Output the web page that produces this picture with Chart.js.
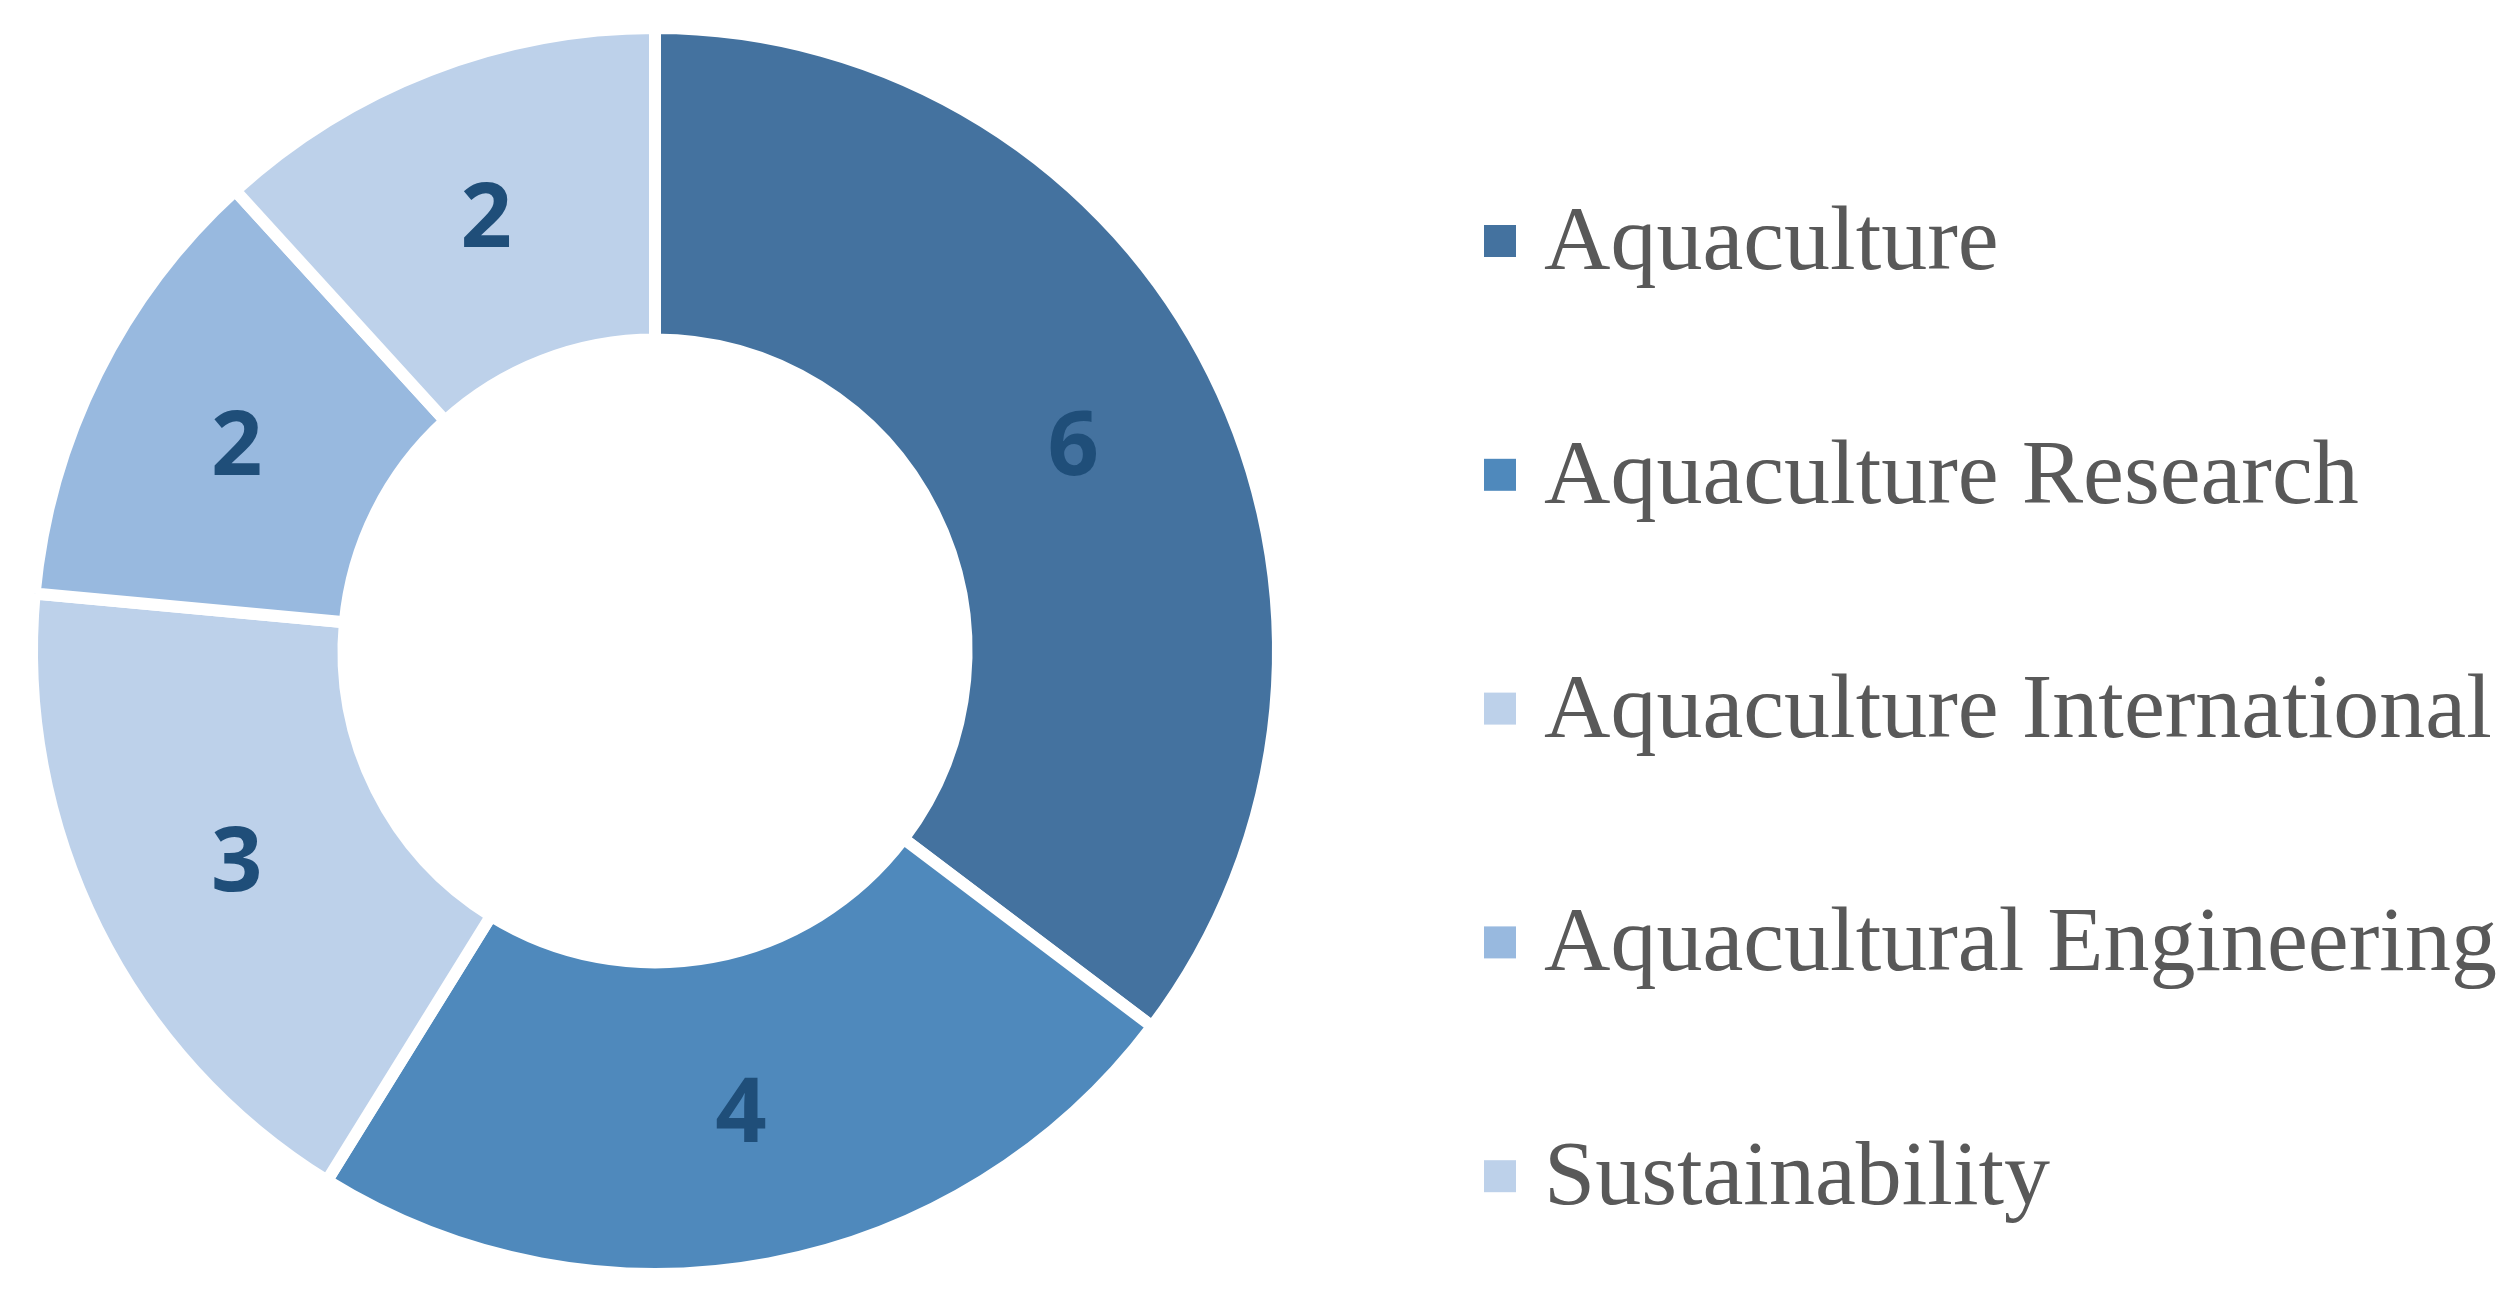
<!DOCTYPE html>
<html>
<head>
<meta charset="utf-8">
<script src="https://cdn.jsdelivr.net/npm/chart.js@4"></script>
<style>
  html, body { margin: 0; padding: 0; background: #fff; }
  #wrap { width: 2514px; height: 1301px; }
</style>
</head>
<body>
<div id="wrap"><canvas id="journalChart"></canvas></div>
<script>
// journals and paper counts
const journals = ['Aquaculture', 'Aquaculture Research', 'Aquaculture International', 'Aquacultural Engineering', 'Sustainability'];
const counts = [6, 4, 3, 2, 2];
const sliceColors = ['#44729F', '#4F89BC', '#BDD1EA', '#98B9DF', '#BDD1EA'];

// value labels sitting in the middle of each ring slice
const sliceLabels = {
    id: 'sliceLabels',
    afterDatasetsDraw(chart) {
        const ctx = chart.ctx;
        const meta = chart.getDatasetMeta(0);
        ctx.save();
        ctx.font = 'bold 90px "Open Sans"';
        ctx.fillStyle = '#1F4E79';
        ctx.textAlign = 'center';
        ctx.textBaseline = 'alphabetic';
        meta.data.forEach((arc, i) => {
            const p = arc.getCenterPoint();
            ctx.fillText(String(chart.data.datasets[0].data[i]), p.x, p.y + 32);
        });
        ctx.restore();
    }
};

// legend on the right, Excel style
const sideLegend = {
    id: 'sideLegend',
    afterDraw(chart) {
        const ctx = chart.ctx;
        const ds = chart.data.datasets[0];
        const x0 = 1484, y0 = 241, step = 233.8, box = 32;
        ctx.save();
        ctx.font = '92px "Liberation Serif"';
        ctx.textBaseline = 'alphabetic';
        ctx.textAlign = 'left';
        chart.data.labels.forEach((label, i) => {
            const cy = y0 + i * step;
            ctx.fillStyle = ds.backgroundColor[i];
            ctx.fillRect(x0, cy - box / 2, box, box);
            ctx.fillStyle = '#595959';
            ctx.fillText(label, x0 + 60, cy + 28);
        });
        ctx.restore();
    }
};

new Chart(document.getElementById('journalChart'), {
    type: 'doughnut',
    data: {
        labels: journals,
        datasets: [{
            data: counts,
            backgroundColor: sliceColors,
            borderColor: '#ffffff',
            borderWidth: 12
        }]
    },
    options: {
        responsive: true,
        maintainAspectRatio: false,
        animation: false,
        cutout: '50%',
        layout: { padding: { left: 26, top: 22, bottom: 21, right: 1230 } },
        plugins: {
            legend: { display: false },
            tooltip: { enabled: false }
        }
    },
    plugins: [sliceLabels, sideLegend]
});
</script>
</body>
</html>
